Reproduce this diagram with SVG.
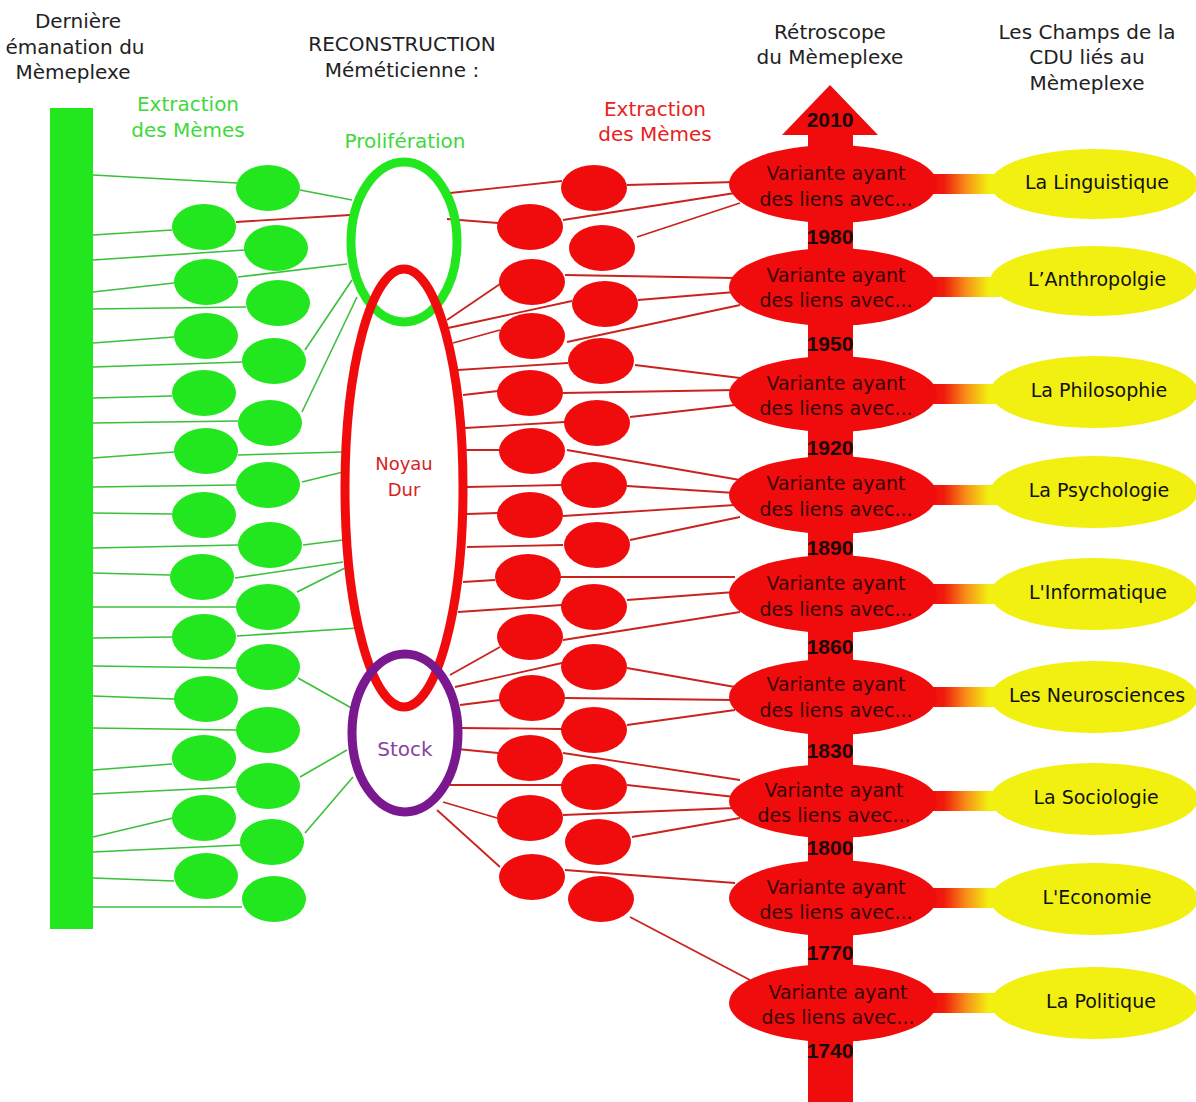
<svg xmlns="http://www.w3.org/2000/svg" width="1196" height="1102" viewBox="0 0 1196 1102">
<style>
.t{font-family:"DejaVu Sans",sans-serif;text-anchor:middle;dominant-baseline:central}
.hd{font-size:20px;fill:#222}
.gt{font-size:20px;fill:#3fd83a}
.rt{font-size:20px;fill:#e8221c}
.vt{font-size:19px;fill:#3a0505}
.yt{font-size:19px;fill:#111}
.yr{font-family:"Liberation Sans",sans-serif;font-weight:bold;font-size:21px;fill:#1a0a0a;text-anchor:middle;dominant-baseline:central}
.ge{fill:#22e61e}
.re{fill:#f00c0c}
.ve{fill:#f00c0c}
.ye{fill:#f2f010}
.gl{stroke:#3cbf3c;stroke-width:1.6;fill:none}
.rl{stroke:#c8231e;stroke-width:1.8;fill:none}
.band{fill:url(#grad)}
</style>
<defs>
<linearGradient id="grad" x1="0" y1="0" x2="1" y2="0">
<stop offset="0" stop-color="#f00c0c"/>
<stop offset="0.25" stop-color="#f01a0c"/>
<stop offset="0.55" stop-color="#f8901a"/>
<stop offset="0.85" stop-color="#f2f010"/>
<stop offset="1" stop-color="#f2f010"/>
</linearGradient>
</defs>
<rect x="0" y="0" width="1196" height="1102" fill="#fff"/>

<g id="headers">
<text class="t hd" x="78" y="21">Dernière</text>
<text class="t hd" x="75" y="47">émanation du</text>
<text class="t hd" x="73" y="72">Mèmeplexe</text>
<text class="t hd" x="402" y="44">RECONSTRUCTION</text>
<text class="t hd" x="402" y="70">Méméticienne :</text>
<text class="t hd" x="830" y="32">Rétroscope</text>
<text class="t hd" x="830" y="57">du Mèmeplexe</text>
<text class="t hd" x="1087" y="32">Les Champs de la</text>
<text class="t hd" x="1087" y="57">CDU liés au</text>
<text class="t hd" x="1087" y="83">Mèmeplexe</text>
<text class="t gt" x="188" y="104">Extraction</text>
<text class="t gt" x="188" y="130">des Mèmes</text>
<text class="t gt" x="405" y="141">Prolifération</text>
<text class="t rt" x="655" y="109">Extraction</text>
<text class="t rt" x="655" y="134">des Mèmes</text>
</g>

<g id="connectors">
<g class="gl">
<line x1="93" y1="175" x2="237" y2="183"/>
<line x1="93" y1="235" x2="172" y2="230"/>
<line x1="93" y1="260" x2="245" y2="250"/>
<line x1="93" y1="292" x2="174" y2="283"/>
<line x1="93" y1="309" x2="246" y2="307"/>
<line x1="93" y1="343" x2="174" y2="337"/>
<line x1="93" y1="367" x2="242" y2="362"/>
<line x1="93" y1="398" x2="172" y2="396"/>
<line x1="93" y1="423" x2="238" y2="421"/>
<line x1="93" y1="458" x2="174" y2="452"/>
<line x1="93" y1="487" x2="236" y2="485"/>
<line x1="93" y1="513" x2="172" y2="514"/>
<line x1="93" y1="548" x2="238" y2="545"/>
<line x1="93" y1="573" x2="170" y2="575"/>
<line x1="93" y1="607" x2="236" y2="607"/>
<line x1="93" y1="638" x2="172" y2="637"/>
<line x1="93" y1="666" x2="236" y2="668"/>
<line x1="93" y1="696" x2="174" y2="699"/>
<line x1="93" y1="728" x2="236" y2="730"/>
<line x1="93" y1="770" x2="172" y2="764"/>
<line x1="93" y1="794" x2="236" y2="787"/>
<line x1="93" y1="837" x2="173" y2="818"/>
<line x1="93" y1="852" x2="241" y2="845"/>
<line x1="93" y1="878" x2="174" y2="881"/>
<line x1="93" y1="907" x2="242" y2="907"/>
<line x1="300" y1="190" x2="352" y2="200"/>
<line x1="238" y1="277" x2="347" y2="264"/>
<line x1="305" y1="350" x2="352" y2="280"/>
<line x1="302" y1="412" x2="357" y2="297"/>
<line x1="238" y1="455" x2="342" y2="452"/>
<line x1="302" y1="482" x2="343" y2="472"/>
<line x1="303" y1="545" x2="343" y2="540"/>
<line x1="235" y1="578" x2="343" y2="562"/>
<line x1="297" y1="592" x2="345" y2="568"/>
<line x1="237" y1="636" x2="358" y2="628"/>
<line x1="298" y1="678" x2="355" y2="710"/>
<line x1="300" y1="777" x2="347" y2="750"/>
<line x1="305" y1="833" x2="353" y2="777"/>
</g>
<g class="rl">
<line x1="236" y1="222" x2="350" y2="215"/>
<line x1="450" y1="193" x2="562" y2="181"/>
<line x1="447" y1="219" x2="498" y2="223"/>
<line x1="447" y1="320" x2="500" y2="284"/>
<line x1="448" y1="328" x2="572" y2="301"/>
<line x1="453" y1="343" x2="500" y2="330"/>
<line x1="458" y1="370" x2="568" y2="363"/>
<line x1="463" y1="395" x2="498" y2="391"/>
<line x1="465" y1="428" x2="565" y2="422"/>
<line x1="465" y1="450" x2="500" y2="450"/>
<line x1="467" y1="487" x2="562" y2="485"/>
<line x1="467" y1="514" x2="498" y2="513"/>
<line x1="467" y1="547" x2="563" y2="545"/>
<line x1="463" y1="582" x2="495" y2="580"/>
<line x1="458" y1="612" x2="562" y2="605"/>
<line x1="450" y1="675" x2="500" y2="647"/>
<line x1="455" y1="687" x2="562" y2="663"/>
<line x1="460" y1="705" x2="500" y2="700"/>
<line x1="460" y1="728" x2="562" y2="729"/>
<line x1="457" y1="749" x2="498" y2="753"/>
<line x1="450" y1="785" x2="562" y2="785"/>
<line x1="443" y1="802" x2="497" y2="818"/>
<line x1="437" y1="810" x2="500" y2="867"/>
<line x1="627" y1="185" x2="735" y2="182"/>
<line x1="563" y1="220" x2="735" y2="193"/>
<line x1="637" y1="237" x2="740" y2="203"/>
<line x1="565" y1="275" x2="735" y2="278"/>
<line x1="638" y1="300" x2="735" y2="292"/>
<line x1="567" y1="342" x2="740" y2="305"/>
<line x1="635" y1="365" x2="740" y2="378"/>
<line x1="563" y1="393" x2="735" y2="390"/>
<line x1="630" y1="417" x2="735" y2="405"/>
<line x1="567" y1="450" x2="740" y2="480"/>
<line x1="627" y1="486" x2="735" y2="493"/>
<line x1="563" y1="516" x2="735" y2="505"/>
<line x1="630" y1="540" x2="740" y2="517"/>
<line x1="560" y1="577" x2="735" y2="577"/>
<line x1="627" y1="600" x2="735" y2="592"/>
<line x1="563" y1="640" x2="740" y2="612"/>
<line x1="627" y1="668" x2="735" y2="687"/>
<line x1="565" y1="698" x2="735" y2="700"/>
<line x1="627" y1="725" x2="735" y2="710"/>
<line x1="563" y1="753" x2="740" y2="780"/>
<line x1="627" y1="785" x2="735" y2="797"/>
<line x1="563" y1="815" x2="735" y2="808"/>
<line x1="632" y1="837" x2="740" y2="818"/>
<line x1="565" y1="870" x2="735" y2="883"/>
<line x1="630" y1="917" x2="750" y2="980"/>
</g>
<g id="bands">
<rect class="band" x="925" y="174" width="75" height="20"/>
<rect class="band" x="925" y="277" width="75" height="20"/>
<rect class="band" x="925" y="384" width="75" height="20"/>
<rect class="band" x="925" y="485" width="75" height="20"/>
<rect class="band" x="925" y="584" width="75" height="20"/>
<rect class="band" x="925" y="687" width="75" height="20"/>
<rect class="band" x="925" y="791" width="75" height="20"/>
<rect class="band" x="925" y="888" width="75" height="20"/>
<rect class="band" x="925" y="993" width="75" height="20"/>
</g>
</g>

<g id="emanation"><rect x="50" y="108" width="43" height="821" fill="#22e61e"/></g>

<g id="green-memes">
<ellipse class="ge" cx="268" cy="188" rx="32" ry="23"/>
<ellipse class="ge" cx="204" cy="227" rx="32" ry="23"/>
<ellipse class="ge" cx="276" cy="248" rx="32" ry="23"/>
<ellipse class="ge" cx="206" cy="282" rx="32" ry="23"/>
<ellipse class="ge" cx="278" cy="303" rx="32" ry="23"/>
<ellipse class="ge" cx="206" cy="336" rx="32" ry="23"/>
<ellipse class="ge" cx="274" cy="361" rx="32" ry="23"/>
<ellipse class="ge" cx="204" cy="393" rx="32" ry="23"/>
<ellipse class="ge" cx="270" cy="423" rx="32" ry="23"/>
<ellipse class="ge" cx="206" cy="451" rx="32" ry="23"/>
<ellipse class="ge" cx="268" cy="485" rx="32" ry="23"/>
<ellipse class="ge" cx="204" cy="515" rx="32" ry="23"/>
<ellipse class="ge" cx="270" cy="545" rx="32" ry="23"/>
<ellipse class="ge" cx="202" cy="577" rx="32" ry="23"/>
<ellipse class="ge" cx="268" cy="607" rx="32" ry="23"/>
<ellipse class="ge" cx="204" cy="637" rx="32" ry="23"/>
<ellipse class="ge" cx="268" cy="667" rx="32" ry="23"/>
<ellipse class="ge" cx="206" cy="699" rx="32" ry="23"/>
<ellipse class="ge" cx="268" cy="730" rx="32" ry="23"/>
<ellipse class="ge" cx="204" cy="758" rx="32" ry="23"/>
<ellipse class="ge" cx="268" cy="786" rx="32" ry="23"/>
<ellipse class="ge" cx="204" cy="818" rx="32" ry="23"/>
<ellipse class="ge" cx="272" cy="842" rx="32" ry="23"/>
<ellipse class="ge" cx="206" cy="876" rx="32" ry="23"/>
<ellipse class="ge" cx="274" cy="899" rx="32" ry="23"/>
</g>

<g id="proliferation"><ellipse cx="404" cy="242" rx="53" ry="80" fill="none" stroke="#22e61e" stroke-width="9"/></g>
<g id="noyau-dur">
<ellipse cx="404" cy="488" rx="59" ry="219" fill="none" stroke="#f00c0c" stroke-width="9"/>
<text class="t" x="404" y="463" font-size="18" fill="#d42424">Noyau</text>
<text class="t" x="404" y="489" font-size="18" fill="#d42424">Dur</text>
</g>
<g id="stock">
<ellipse cx="405" cy="733" rx="53" ry="79" fill="none" stroke="#7a1890" stroke-width="9"/>
<text class="t" x="405" y="749" font-size="20" fill="#8b3fa0">Stock</text>
</g>

<g id="red-memes">
<ellipse class="re" cx="594" cy="188" rx="33" ry="23"/>
<ellipse class="re" cx="530" cy="227" rx="33" ry="23"/>
<ellipse class="re" cx="602" cy="248" rx="33" ry="23"/>
<ellipse class="re" cx="532" cy="282" rx="33" ry="23"/>
<ellipse class="re" cx="605" cy="304" rx="33" ry="23"/>
<ellipse class="re" cx="532" cy="336" rx="33" ry="23"/>
<ellipse class="re" cx="601" cy="361" rx="33" ry="23"/>
<ellipse class="re" cx="530" cy="393" rx="33" ry="23"/>
<ellipse class="re" cx="597" cy="423" rx="33" ry="23"/>
<ellipse class="re" cx="532" cy="451" rx="33" ry="23"/>
<ellipse class="re" cx="594" cy="485" rx="33" ry="23"/>
<ellipse class="re" cx="530" cy="515" rx="33" ry="23"/>
<ellipse class="re" cx="597" cy="545" rx="33" ry="23"/>
<ellipse class="re" cx="528" cy="577" rx="33" ry="23"/>
<ellipse class="re" cx="594" cy="607" rx="33" ry="23"/>
<ellipse class="re" cx="530" cy="637" rx="33" ry="23"/>
<ellipse class="re" cx="594" cy="667" rx="33" ry="23"/>
<ellipse class="re" cx="532" cy="698" rx="33" ry="23"/>
<ellipse class="re" cx="594" cy="730" rx="33" ry="23"/>
<ellipse class="re" cx="530" cy="758" rx="33" ry="23"/>
<ellipse class="re" cx="594" cy="787" rx="33" ry="23"/>
<ellipse class="re" cx="530" cy="818" rx="33" ry="23"/>
<ellipse class="re" cx="598" cy="842" rx="33" ry="23"/>
<ellipse class="re" cx="532" cy="877" rx="33" ry="23"/>
<ellipse class="re" cx="601" cy="899" rx="33" ry="23"/>
</g>

<g id="retroscope">
<rect x="808" y="134" width="45" height="968" fill="#f00c0c"/>
<polygon points="830,85 878,135 782,135" fill="#f00c0c"/>
</g>

<g id="champs">
<g id="champ-1"><ellipse class="ye" cx="1094" cy="184" rx="104" ry="35"/><text class="t yt" x="1097" y="182">La Linguistique</text></g>
<g id="champ-2"><ellipse class="ye" cx="1094" cy="281" rx="104" ry="35"/><text class="t yt" x="1097" y="279">L’Anthropolgie</text></g>
<g id="champ-3"><ellipse class="ye" cx="1094" cy="392" rx="104" ry="36"/><text class="t yt" x="1099" y="390">La Philosophie</text></g>
<g id="champ-4"><ellipse class="ye" cx="1094" cy="492" rx="104" ry="36"/><text class="t yt" x="1099" y="490">La Psychologie</text></g>
<g id="champ-5"><ellipse class="ye" cx="1094" cy="594" rx="104" ry="36"/><text class="t yt" x="1098" y="592">L'Informatique</text></g>
<g id="champ-6"><ellipse class="ye" cx="1094" cy="697" rx="104" ry="36"/><text class="t yt" x="1097" y="695">Les Neurosciences</text></g>
<g id="champ-7"><ellipse class="ye" cx="1094" cy="799" rx="104" ry="36"/><text class="t yt" x="1096" y="797">La Sociologie</text></g>
<g id="champ-8"><ellipse class="ye" cx="1094" cy="899" rx="104" ry="36"/><text class="t yt" x="1097" y="897">L'Economie</text></g>
<g id="champ-9"><ellipse class="ye" cx="1094" cy="1003" rx="104" ry="36"/><text class="t yt" x="1101" y="1001">La Politique</text></g>
</g>

<g id="variantes">
<g id="variante-1"><ellipse class="ve" cx="833" cy="184" rx="104" ry="39"/><text class="t vt" x="836" y="173">Variante ayant</text><text class="t vt" x="836" y="199">des liens avec...</text></g>
<g id="variante-2"><ellipse class="ve" cx="833" cy="287" rx="104" ry="39"/><text class="t vt" x="836" y="275">Variante ayant</text><text class="t vt" x="836" y="300">des liens avec...</text></g>
<g id="variante-3"><ellipse class="ve" cx="833" cy="394" rx="104" ry="38"/><text class="t vt" x="836" y="383">Variante ayant</text><text class="t vt" x="836" y="408">des liens avec...</text></g>
<g id="variante-4"><ellipse class="ve" cx="833" cy="495" rx="104" ry="39"/><text class="t vt" x="836" y="483">Variante ayant</text><text class="t vt" x="836" y="509">des liens avec...</text></g>
<g id="variante-5"><ellipse class="ve" cx="833" cy="594" rx="104" ry="39"/><text class="t vt" x="836" y="583">Variante ayant</text><text class="t vt" x="836" y="609">des liens avec...</text></g>
<g id="variante-6"><ellipse class="ve" cx="833" cy="697" rx="104" ry="38"/><text class="t vt" x="836" y="684">Variante ayant</text><text class="t vt" x="836" y="710">des liens avec...</text></g>
<g id="variante-7"><ellipse class="ve" cx="833" cy="801" rx="104" ry="37"/><text class="t vt" x="834" y="790">Variante ayant</text><text class="t vt" x="834" y="815">des liens avec...</text></g>
<g id="variante-8"><ellipse class="ve" cx="833" cy="898" rx="104" ry="38"/><text class="t vt" x="836" y="887">Variante ayant</text><text class="t vt" x="836" y="912">des liens avec...</text></g>
<g id="variante-9"><ellipse class="ve" cx="833" cy="1003" rx="104" ry="39"/><text class="t vt" x="838" y="992">Variante ayant</text><text class="t vt" x="838" y="1017">des liens avec...</text></g>
</g>

<g id="years">
<text class="yr" x="830" y="119">2010</text>
<text class="yr" x="830" y="236">1980</text>
<text class="yr" x="830" y="343">1950</text>
<text class="yr" x="830" y="447">1920</text>
<text class="yr" x="830" y="547">1890</text>
<text class="yr" x="830" y="646">1860</text>
<text class="yr" x="830" y="750">1830</text>
<text class="yr" x="830" y="847">1800</text>
<text class="yr" x="830" y="952">1770</text>
<text class="yr" x="830" y="1050">1740</text>
</g>
</svg>
